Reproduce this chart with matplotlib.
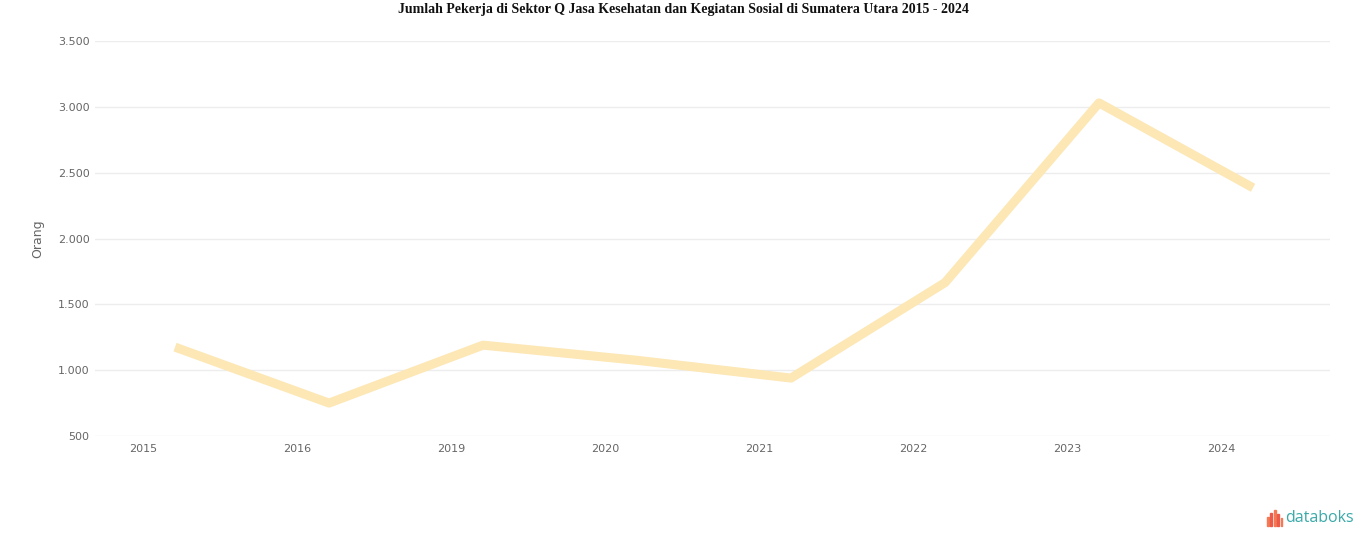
import matplotlib
matplotlib.use("Agg")
import matplotlib.pyplot as plt
from matplotlib.patches import Rectangle
import numpy as np

years = ["2015", "2016", "2019", "2020", "2021", "2022", "2023", "2024"]
workers = [1175, 750, 1190, 1075, 940, 1665, 3030, 2385]
y_ticks = [500, 1000, 1500, 2000, 2500, 3000, 3500]
y_tick_labels = ["500", "1.000", "1.500", "2.000", "2.500", "3.000", "3.500"]

fig = plt.figure(figsize=(13.66, 5.47), dpi=100)
W, H = 1366, 547
ax = fig.add_axes([95 / W, 1 - 436 / H, (1330 - 95) / W, (436 - 41) / H])

x = np.arange(len(years))
offset = 0.208
ax.plot(x + offset, workers, color="#FCE7B5", lw=6.5, solid_capstyle="butt",
        solid_joinstyle="round", zorder=3)

ax.set_ylim(500, 3500)
ax.set_xlim((95 - 143) / 154, (1330 - 143) / 154)
ax.set_yticks(y_ticks)
ax.set_yticklabels(y_tick_labels)
ax.set_xticks(x)
ax.set_xticklabels(years)
ax.grid(axis="y", color="#EDEDED", lw=1)
ax.grid(axis="x", visible=False)
for s in ax.spines.values():
    s.set_visible(False)
ax.tick_params(axis="both", length=0, labelsize=8, colors="#666666")
ax.tick_params(axis="y", pad=4)
ax.tick_params(axis="x", pad=6)
ax.set_ylabel("Orang", fontsize=9, color="#666666", labelpad=10)

fig.text(0.5, 1 - 10 / H, "Jumlah Pekerja di Sektor Q Jasa Kesehatan dan Kegiatan Sosial di Sumatera Utara 2015 - 2024",
         ha="center", va="center", fontsize=10, fontweight="bold", family="Liberation Serif", color="#111111")

# databoks logo
bar_heights = [9, 13, 16, 12, 8]
bar_colors = ["#F47A55", "#EE5A4A", "#F47A55", "#EE5A4A", "#F47A55"]
for i, (bh, bc) in enumerate(zip(bar_heights, bar_colors)):
    fig.add_artist(Rectangle(((1267 + i * 3.4) / W, 1 - 526 / H), 1.8 / W, bh / H,
                             transform=fig.transFigure, color=bc))
fig.text(1285 / W, 1 - 518 / H, "databoks", ha="left", va="center", fontsize=11.5,
         color="#3AA9A9", family="Open Sans")

fig.savefig("out.png", dpi=100, facecolor="white")
